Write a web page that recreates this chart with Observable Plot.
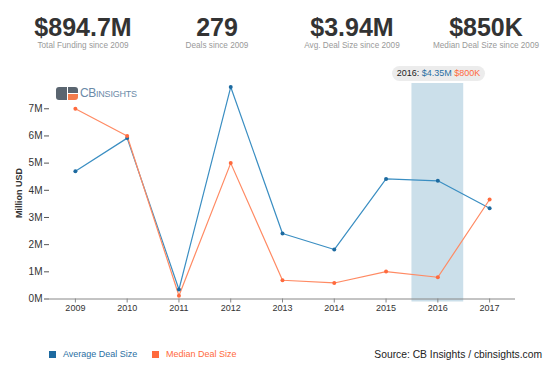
<!DOCTYPE html>
<html>
<head>
<meta charset="utf-8">
<script src="https://cdn.jsdelivr.net/npm/d3@7"></script>
<script src="https://cdn.jsdelivr.net/npm/@observablehq/plot@0.6"></script>
<style>
  html, body { margin: 0; padding: 0; background: #fff; }
  #wrap { position: relative; width: 550px; height: 370px; overflow: hidden; font-family: "Liberation Sans", Arial, Helvetica, sans-serif; background: #fff; }
  .abs { position: absolute; white-space: nowrap; }
  .stat { width: 160px; text-align: center; transform: translateX(-50%); }
  .big { font-size: 25px; line-height: 25px; font-weight: bold; color: #333; }
  .small { font-size: 8.2px; line-height: 10px; color: #999; }
  #chart { position: absolute; left: 0; top: 60px; }
</style>
</head>
<body>
<div id="wrap"></div>
<script>
// ---- data ----
const years = ["2009", "2010", "2011", "2012", "2013", "2014", "2015", "2016", "2017"];
const avgDealSize = [4.7, 5.92, 0.35, 7.8, 2.41, 1.82, 4.42, 4.35, 3.34];
const medianDealSize = [7.0, 6.0, 0.12, 5.0, 0.69, 0.59, 1.01, 0.8, 3.66];
const yTicks = [0, 1, 2, 3, 4, 5, 6, 7];
const statValues = ["$894.7M", "279", "$3.94M", "$850K"];
const statLabels = ["Total Funding since 2009", "Deals since 2009", "Avg. Deal Size since 2009", "Median Deal Size since 2009"];
const seriesNames = ["Average Deal Size", "Median Deal Size"];
const highlightYear = "2016";
const sourceText = "Source: CB Insights / cbinsights.com";
const yLabel = "Million USD";

// ---- styles ----
const blueLine = "#3a8ec2", blueDot = "#1d6aa0", blueText = "#2a6fa3";
const orangeLine = "#ff8a63", orangeDot = "#ff6a3d", orangeText = "#ff6a3d";
const font = '"Liberation Sans", Arial, Helvetica, sans-serif';

const wrap = document.getElementById("wrap");
function el(cls, css, html) {
  const d = document.createElement("div");
  d.className = cls;
  d.style.cssText = css;
  d.innerHTML = html;
  wrap.appendChild(d);
  return d;
}

// stats header
const statX = [83, 217, 352, 486];
statValues.forEach((v, i) => {
  el("abs stat big", `left:${statX[i]}px;top:15.3px;`, v);
  el("abs stat small", `left:${statX[i]}px;top:41px;`, statLabels[i]);
});

// chart
const data = years.map((y, i) => ({year: y, avg: avgDealSize[i], med: medianDealSize[i]}));
const chart = Plot.plot({
  width: 550,
  height: 260,
  marginLeft: 49,
  marginRight: 35,
  marginTop: 23,
  marginBottom: 21.5,
  style: {fontFamily: font, fontSize: "9px", color: "#333", background: "transparent", overflow: "visible"},
  x: {type: "band", domain: years, padding: 0, round: false, label: null},
  y: {domain: [0, 7.93], label: null},
  marks: [
    Plot.cell([highlightYear], {x: d => d, fill: "#cbdfea", insetBottom: -3}),
    Plot.ruleY([0], {stroke: "#888"}),
    Plot.axisX({tickSize: 4, tickPadding: 2, stroke: "#888", fill: "#333", fontSize: 9}),
    Plot.axisY({ticks: yTicks, tickFormat: d => d + "M", tickSize: 5, tickPadding: 2, stroke: "#555", fill: "#333", fontSize: 10}),
    Plot.line(data, {x: "year", y: "avg", stroke: blueLine, strokeWidth: 1.2}),
    Plot.line(data, {x: "year", y: "med", stroke: orangeLine, strokeWidth: 1.2}),
    Plot.dot(data, {x: "year", y: "avg", r: 2, fill: blueDot}),
    Plot.dot(data, {x: "year", y: "med", r: 2, fill: orangeDot})
  ]
});
chart.id = "chart";
wrap.appendChild(chart);

// y label
el("abs", `left:18.5px;top:193px;transform:translate(-50%,-50%) rotate(-90deg);font-size:9px;font-weight:bold;color:#333;`, yLabel);

// logo
el("abs", `left:56px;top:87px;width:11px;height:13px;background:#5a6570;border-radius:3px 0 0 3px;`, "");
el("abs", `left:68px;top:87px;width:10px;height:6px;background:#5a6570;border-radius:0 3px 0 0;`, "");
el("abs", `left:68px;top:94px;width:10px;height:6px;background:#f47c4c;border-radius:0 0 3px 0;`, "");
el("abs", `left:80px;top:86px;font-size:12px;line-height:14px;color:#6b8aa8;letter-spacing:-0.5px;`, "CB");
el("abs", `left:96px;top:89px;font-size:9px;line-height:11px;color:#6b8aa8;letter-spacing:-0.2px;`, "INSIGHTS");

// tooltip for highlighted year
const hi = years.indexOf(highlightYear);
const medVal = medianDealSize[hi];
const medStr = medVal < 1 ? "$" + Math.round(medVal * 1000) + "K" : "$" + medVal + "M";
el("abs", `left:392px;top:66px;width:93px;height:15px;border-radius:8px;background:#ececec;font-size:9px;line-height:15px;color:#222;text-align:center;`,
  `${highlightYear}: <span style="color:${blueText}">$${avgDealSize[hi]}M</span> <span style="color:${orangeText}">${medStr}</span>`);

// legend
el("abs", `left:49px;top:350.5px;width:7px;height:7px;background:#1d6aa0;`, "");
el("abs", `left:63px;top:349px;font-size:9px;line-height:10px;color:${blueText};`, seriesNames[0]);
el("abs", `left:152px;top:350.5px;width:7px;height:7px;background:#ff6a3d;`, "");
el("abs", `left:166px;top:349px;font-size:9px;line-height:10px;color:${orangeText};`, seriesNames[1]);

// source
el("abs", `right:8px;top:348.5px;font-size:10.3px;line-height:12px;color:#222;`, sourceText);
</script>
</body>
</html>
